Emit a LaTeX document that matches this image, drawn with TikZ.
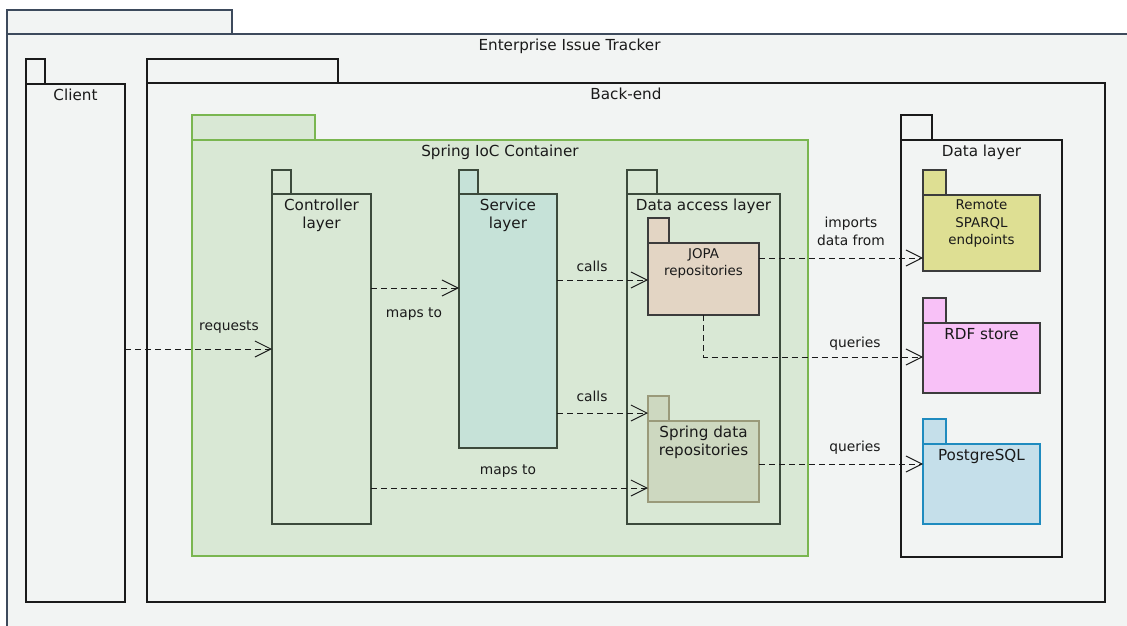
\documentclass[tikz,border=0pt]{standalone}
\usepackage{fontspec}
\setmainfont{DejaVu Sans}
\usetikzlibrary{arrows.meta}

\definecolor{txt}{HTML}{1A1A1A}
\definecolor{outerline}{HTML}{3D4A5C}
\definecolor{bg}{HTML}{F2F4F3}
\definecolor{springline}{HTML}{7AB650}
\definecolor{springfill}{HTML}{D9E8D5}
\definecolor{layerline}{HTML}{3C4A3C}
\definecolor{servicefill}{HTML}{C6E2D8}
\definecolor{jopafill}{HTML}{E3D5C4}
\definecolor{sdfill}{HTML}{CDD8C0}
\definecolor{sdline}{HTML}{9A9A7A}
\definecolor{sparqlfill}{HTML}{DEDF93}
\definecolor{rdffill}{HTML}{F8C1F7}
\definecolor{pgfill}{HTML}{C5DFEA}
\definecolor{pgline}{HTML}{1F8BBF}

% package = tab rectangle + body node with its name at the top
\newcommand{\pkgbox}[9]{%
  \draw[#1] (#3,#4) rectangle (#3+#5,#6);
  \node[#1, anchor=north west, minimum width=#7-#3, minimum height=#8-#6,
        inner sep=0pt, outer sep=0pt] (#2) at (#3,#6) {};
  \node[pkglabel] (#2-label) at (#2.north) {#9};
}

\tikzset{
  x=1pt, y=-1pt,
  pkglabel/.style={anchor=north, yshift=-5pt, align=center, inner sep=0pt,
    text=txt, font=\fontsize{15.2}{18}\selectfont},
  smalllabel/.style={pkglabel/.append style={font=\fontsize{13.4}{17.5}\selectfont}},
  outerpkg/.style={draw=outerline, fill=bg, line width=1.6pt},
  plainpkg/.style={draw=txt, fill=bg, line width=1.1pt},
  springpkg/.style={draw=springline, fill=springfill, line width=1.4pt},
  layerpkg/.style={draw=layerline, fill=springfill, line width=1.1pt},
  servicepkg/.style={draw=layerline, fill=servicefill, line width=1.1pt},
  jopapkg/.style={draw=txt!85, fill=jopafill, line width=1.1pt},
  sdpkg/.style={draw=sdline, fill=sdfill, line width=1.4pt},
  sparqlpkg/.style={draw=txt!85, fill=sparqlfill, line width=1.1pt},
  rdfpkg/.style={draw=txt!85, fill=rdffill, line width=1.1pt},
  pgpkg/.style={draw=pgline, fill=pgfill, line width=1.1pt},
  dep/.style={draw=txt, line width=1pt, dash pattern=on 6pt off 4pt,
    -{Straight Barb[length=16pt,width=16pt,line width=1pt]}},
  deplabel/.style={text=txt, inner sep=0pt, align=center,
    font=\fontsize{13.8}{18}\selectfont},
}

\begin{document}
\begin{tikzpicture}
\useasboundingbox (0,0) rectangle (1127,626);

\begin{scope}
  \clip (0,0) rectangle (1127,626);
  \pkgbox{outerpkg}{tracker}{7}{10}{225}{34}{1132}{640}{Enterprise Issue Tracker}
\end{scope}

\pkgbox{plainpkg}{client}{26}{59}{19}{84}{125}{602}{Client}
\pkgbox{plainpkg}{backend}{147}{59}{191}{83}{1105}{602}{Back-end}
\pkgbox{springpkg}{spring}{192}{115}{123}{140}{808}{556}{Spring IoC Container}
\pkgbox{layerpkg}{ctl}{272}{170}{19}{194}{371}{524}{Controller\\layer}
\pkgbox{servicepkg}{svc}{459}{170}{19}{194}{557}{448}{Service\\layer}
\pkgbox{layerpkg}{dal}{627}{170}{30}{194}{780}{524}{Data access layer}
\begingroup
\tikzset{smalllabel}
\pkgbox{jopapkg}{jopa}{648}{218}{21}{243}{759}{315}{JOPA\\repositories}
\endgroup
\pkgbox{sdpkg}{sdr}{648}{396}{21}{421}{759}{502}{Spring data\\repositories}
\pkgbox{plainpkg}{datalayer}{901}{115}{31}{140}{1062}{557}{Data layer}
\begingroup
\tikzset{smalllabel}
\pkgbox{sparqlpkg}{sparql}{923}{170}{23}{195}{1040}{271}{Remote\\SPARQL\\endpoints}
\endgroup
\pkgbox{rdfpkg}{rdf}{923}{298}{23}{323}{1040}{393}{RDF store}
\pkgbox{pgpkg}{pg}{923}{419}{23}{444}{1040}{524}{PostgreSQL}

% dependencies
\draw[dep] (client.east |- 0,349) -- (ctl.west |- 0,349);
\node[deplabel] (l-req) at (229,327) {requests};

\draw[dep] (ctl.east |- 0,288) -- (svc.west |- 0,288);
\node[deplabel] (l-map1) at (414,314.5) {maps to};

\draw[dep] (svc.east |- 0,280) -- (jopa.west |- 0,280);
\node[deplabel] (l-call1) at (592,266) {calls};

\draw[dep] (svc.east |- 0,413) -- (sdr.west |- 0,413);
\node[deplabel] (l-call2) at (592,396) {calls};

\draw[dep] (ctl.east |- 0,488) -- (sdr.west |- 0,488);
\node[deplabel] (l-map2) at (508,471.5) {maps to};

\draw[dep] (jopa.east |- 0,258) -- (sparql.west |- 0,258);
\node[deplabel] (l-imp) at (851,231) {imports\\data from};

\draw[dep] (jopa.south) |- (rdf.west |- 0,357);
\node[deplabel] (l-q1) at (855,343.5) {queries};

\draw[dep] (sdr.east |- 0,464) -- (pg.west |- 0,464);
\node[deplabel] (l-q2) at (855,447.5) {queries};
\end{tikzpicture}
\end{document}
